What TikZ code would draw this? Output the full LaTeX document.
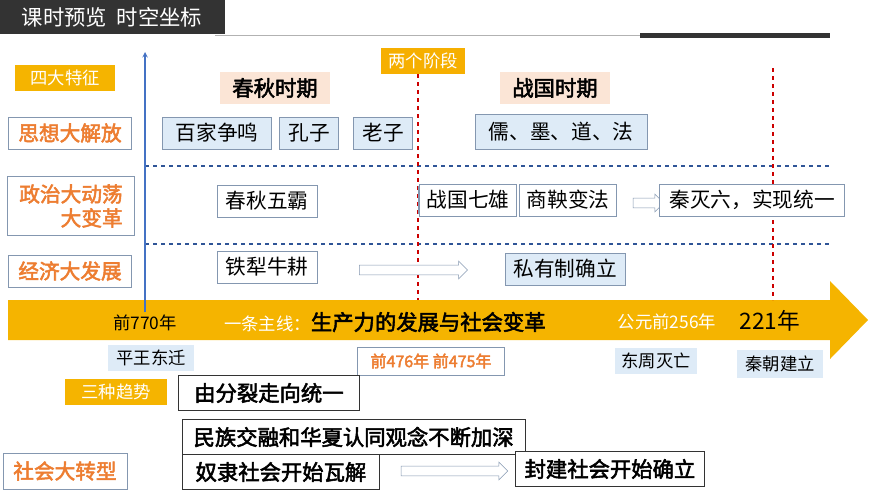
\documentclass[tikz,border=0pt]{standalone}
\usepackage{fontspec}
\setmainfont{Noto Sans CJK SC}[BoldFont={Noto Sans CJK SC},BoldFeatures={FakeBold=2.5}]
\usetikzlibrary{shapes.arrows,positioning}
\definecolor{hdr}{HTML}{333333}
\definecolor{gold}{HTML}{F5B400}
\definecolor{orng}{HTML}{ED7D31}
\definecolor{paleblue}{HTML}{DEEBF7}
\definecolor{pink}{HTML}{FBE5D6}
\definecolor{frame}{HTML}{8497B0}
\definecolor{axisblue}{HTML}{4472C4}
\definecolor{dashblue}{HTML}{2F5597}

\begin{document}
\begin{tikzpicture}[
        x=0.75pt, y=-0.75pt,
        every node/.style={inner sep=0pt, align=center},
        box/.style={draw=frame, fill=white, font=\fontsize{15.5}{17}\selectfont, minimum height=24pt},
        bluebox/.style={box, fill=paleblue},
        sidebox/.style={box, text=orng, font=\fontsize{15.5}{18}\selectfont\bfseries},
        tagbox/.style={fill=gold, text=white, font=\fontsize{13}{15}\selectfont, minimum height=20pt},
        bigbox/.style={box, draw=hdr, font=\fontsize{16}{18}\selectfont\bfseries, minimum height=26pt},
        hollow/.style={single arrow, draw=frame, fill=white, minimum height=#1, inner sep=3.5pt, single arrow head extend=3pt}
    ]
    \useasboundingbox (0,0) rectangle (870,489);

    % Header
    \node[fill=hdr, text=white, minimum width=169pt, minimum height=25pt, font=\fontsize{16}{18}\selectfont] (title) at (112,17) {课时预览\ \ 时空坐标};
    \draw[gray!60] (215,35) -- (830,35);
    \fill[hdr] (640,33) rectangle (830,38);

    % Main arrow
    \fill[gold] (8,300) -- (830,300) -- (830,281) -- (868,320) -- (830,359) -- (830,340) -- (8,340) -- cycle;

    % Grid lines
    \draw[dashblue, thick, dashed] (145,166) -- (832,166);
    \draw[dashblue, thick, dashed] (145,244) -- (832,244);
    \draw[red!80!black, thick, dashed] (418,74) -- (418,300);
    \draw[red!80!black, thick, dashed] (773,68) -- (773,300);
    \coordinate (axisfoot) at (145,312);
    \coordinate (axistop) at (145,52);
    \draw[axisblue, thick, -stealth] (axisfoot) -- (axistop);

    % Tags
    \node[tagbox, minimum width=75pt] (features) at (65,78) {四大特征};
    \node[tagbox, fill=gold!90!orange, minimum width=63pt] (stages) at (423,61) {两个阶段};
    \node[tagbox, minimum width=77pt] (trends) at (116,392) {三种趋势};

    % Periods
    \node[box, draw=none, fill=pink, minimum width=82pt, font=\fontsize{16}{18}\selectfont\bfseries] (chunqiu) at (275,88) {春秋时期};
    \node[box, draw=none, fill=pink, minimum width=82pt, font=\fontsize{16}{18}\selectfont\bfseries] (zhanguo) at (555,88) {战国时期};

    % Left labels
    \node[sidebox, minimum width=92pt] (thought) at (70,133) {思想大解放};
    \node[sidebox, minimum width=95pt, minimum height=44pt, align=right] (politics) at (71,206) {政治大动荡\\大变革};
    \node[sidebox, minimum width=92pt] (economy) at (70,271) {经济大发展};
    \node[sidebox, minimum width=93pt, minimum height=27pt] (society) at (65,471) {社会大转型};

    % Thought row
    \node[bluebox, minimum width=82pt] (baijia) at (217,133) {百家争鸣};
    \node[bluebox, minimum width=44pt] (kongzi) at (309,133) {孔子};
    \node[bluebox, minimum width=44pt] (laozi) at (383,133) {老子};
    \node[bluebox, minimum width=129pt, minimum height=26pt] (schools) at (561,132) {儒、墨、道、法};

    % Politics row
    \node[box, minimum width=75pt] (wuba) at (267,201) {春秋五霸};
    \node[box, minimum width=73pt] (qixiong) at (468,200) {战国七雄};
    \node[box, minimum width=73pt] (shangyang) at (568,200) {商鞅变法};
    \node[hollow=23pt] (arrowqin) at (646,203) {};
    \node[box, minimum width=139pt] (unify) at (752,200) {秦灭六，实现统一};
    \draw[frame] (418,186) -- (418,214);

    % Economy row
    \node[box, minimum width=75pt] (tieli) at (267,267) {铁犁牛耕};
    \node[hollow=81pt] (arrowprop) at (411,270) {};
    \node[bluebox, minimum width=90pt] (private) at (565,269) {私有制确立};

    % Texts on the main line
    \node[font=\fontsize{13}{15}\selectfont] (y770) at (145,323) {前770年};
    \node[font=\fontsize{16}{18}\selectfont, anchor=west] (mainline) at (224,322) {\textcolor{white}{\fontsize{13}{15}\selectfont 一条主线：}\textbf{生产力的发展与社会变革}};
    \node[text=white, font=\fontsize{13}{15}\selectfont] (y256) at (667,322) {公元前256年};
    \node[font=\fontsize{17}{19}\selectfont] (y221) at (770,321) {221年};

    % Events below
    \node[bluebox, draw=none, minimum width=65pt, minimum height=20pt, font=\fontsize{13}{15}\selectfont] (pingwang) at (151,358) {平王东迁};
    \node[box, minimum width=110pt, minimum height=21pt, text=orng, font=\fontsize{12}{14}\selectfont\bfseries] (split) at (431,361) {前476年\ 前475年};
    \node[bluebox, draw=none, minimum width=61pt, minimum height=20pt, font=\fontsize{13}{15}\selectfont] (zhoufall) at (656,361) {东周灭亡};
    \node[bluebox, draw=none, minimum width=65pt, minimum height=21pt, font=\fontsize{13}{15}\selectfont] (qinfound) at (780,364) {秦朝建立};

    % Trends
    \node[bigbox, minimum width=136pt, anchor=west] (towardunity) at (178,393) {由分裂走向统一};
    \node[bigbox, minimum width=257pt, anchor=west] (fusion) at (182,437) {民族交融和华夏认同观念不断加深};
    \node[bigbox, minimum width=148pt, anchor=west] (slavery) at (182,472) {奴隶社会开始瓦解};
    \node[hollow=80pt] (arrowfeudal) at (452,471) {};
    \node[bigbox, minimum width=142pt, anchor=west] (feudal) at (515,469) {封建社会开始确立};
\end{tikzpicture}
\end{document}
